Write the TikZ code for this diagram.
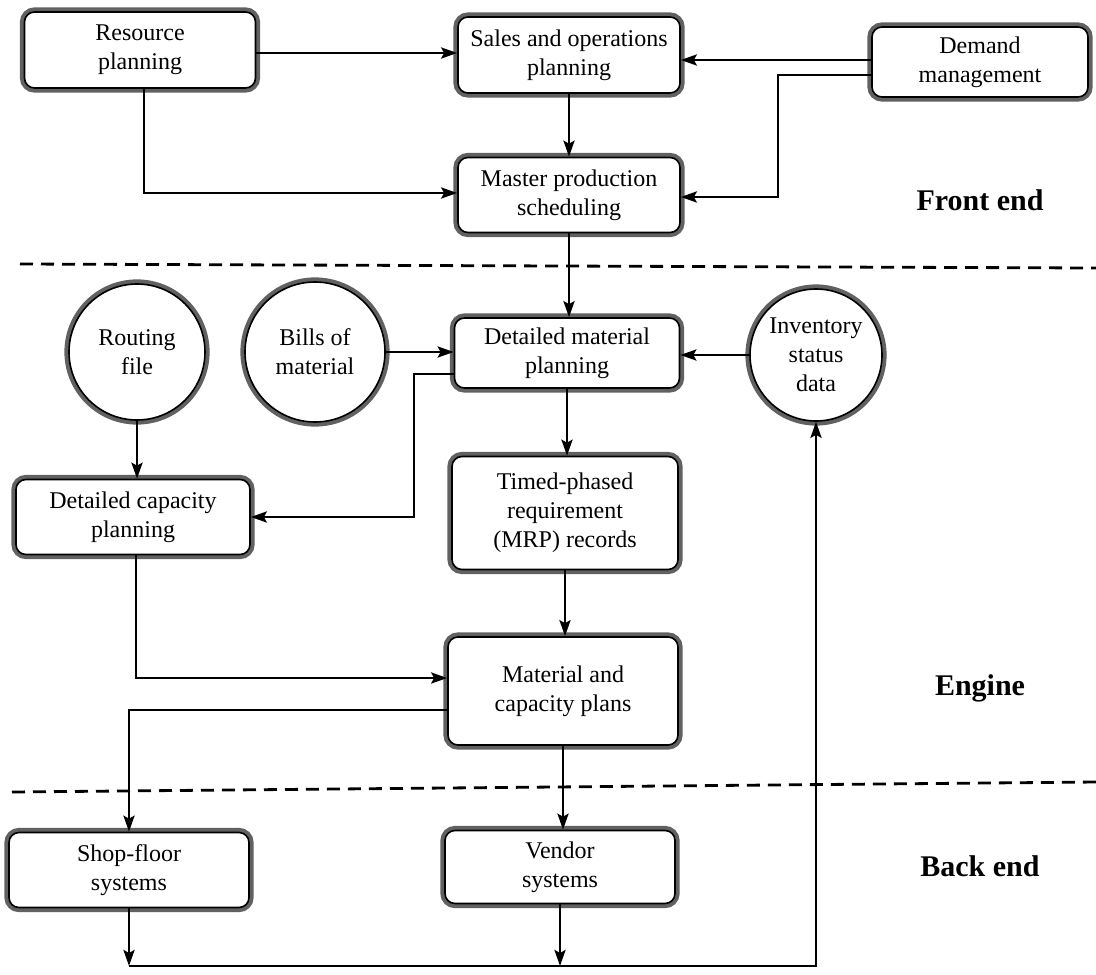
\documentclass[tikz,border=0pt]{standalone}
\usepackage{fontspec}
\setmainfont{Liberation Serif}
\usetikzlibrary{arrows.meta}
\begin{document}
\begin{tikzpicture}[x=0.5pt,y=-0.5pt,
  txt/.style={font=\fontsize{12}{14.4}\selectfont, align=center, inner sep=0pt},
  box/.style={txt, draw=black, line width=0.8pt, fill=white, rounded corners=5pt,
    preaction={draw=black!62, line width=4.6pt}},
  circ/.style={txt, circle, draw=black, line width=0.8pt, fill=white,
    preaction={draw=black!62, line width=4.6pt}},
  arr/.style={line width=1.4pt, -{Stealth[length=8pt,width=5.5pt,inset=1.5pt]}},
  sep/.style={line width=1.4pt, dash pattern=on 6.5pt off 4pt},
  lab/.style={font=\fontsize{15}{18}\selectfont\bfseries}]
\useasboundingbox (0,0) rectangle (1096,974);
\fill[white] (0,0) rectangle (1096,974);
% separators
\coordinate (s1a) at (20,264); \coordinate (s1b) at (1096,268);
\coordinate (s2a) at (12,792); \coordinate (s2b) at (1096,782);
\draw[sep] (s1a) -- (s1b);
\draw[sep] (s2a) -- (s2b);
% nodes
\node[box, minimum width=115.5pt, minimum height=38pt] (res) at (140,50) {Resource\\planning};
\node[box, minimum width=111pt, minimum height=38pt] (sop) at (569,55) {Sales and operations\\planning};
\node[box, minimum width=108pt, minimum height=35pt] (dem) at (980,62) {Demand\\management};
\node[box, minimum width=111pt, minimum height=37.5pt] (mst) at (569,195) {Master production\\scheduling};
\node[circ, minimum size=68pt] (rout) at (137,352) {Routing\\file};
\node[circ, minimum size=70pt] (bom) at (315,352) {Bills of\\material};
\node[box, minimum width=112.5pt, minimum height=35pt] (dmp) at (567,353) {Detailed material\\planning};
\node[circ, minimum size=66pt] (inv) at (816,355) {Inventory\\status\\data};
\node[box, minimum width=117pt, minimum height=37.5pt] (dcp) at (133,517) {Detailed capacity\\planning};
\node[box, minimum width=113pt, minimum height=56.5pt] (tpr) at (565,513) {Timed-phased\\requirement\\(MRP) records};
\node[box, minimum width=115pt, minimum height=54pt] (mcp) at (563,691) {Material and\\capacity plans};
\node[box, minimum width=120pt, minimum height=37.5pt] (sf) at (129,870) {Shop-floor\\systems};
\node[box, minimum width=115pt, minimum height=36.5pt] (vs) at (560,867) {Vendor\\systems};
\node[lab] (fe) at (980,200) {Front end};
\node[lab] (eng) at (980,688) {Engine};
\node[lab] (be) at (980,866) {Back end};
% connectors
\draw[arr] (res.east |- 0,53) -- (sop.west |- 0,53);
\draw[arr] (res.south -| 144,0) |- (mst.west |- 0,193);
\draw[arr] (dem.west |- 0,60) -- (sop.east |- 0,60);
\draw[arr] (dem.west |- 0,75) -- (778,75) |- (mst.east |- 0,197);
\draw[arr] (sop.south) -- (mst.north);
\draw[arr] (mst.south) -- (mst.south |- dmp.north);
\draw[arr] (bom.east) -- (bom.east -| dmp.west);
\draw[arr] (inv.west) -- (inv.west -| dmp.east);
\draw[arr] (dmp.west |- 0,374) -- (414,374) |- (dcp.east);
\draw[arr] (rout.south) -- (rout.south |- dcp.north);
\draw[arr] (dmp.south) -- (dmp.south |- tpr.north);
\draw[arr] (tpr.south) -- (tpr.south |- mcp.north);
\draw[arr] (dcp.south -| 136,0) |- (mcp.west |- 0,678);
\draw[arr] (mcp.west |- 0,710) -| (sf.north);
\draw[arr] (mcp.south) -- (mcp.south |- vs.north);
\coordinate (bl) at (129,966);
\coordinate (br) at (815,962);
\draw[arr] (sf.south) -- (sf.south |- bl);
\draw[arr] (vs.south) -- (vs.south |- bl);
\draw[line width=1.4pt, -{Stealth[length=8pt,width=5.5pt,inset=1.5pt]}] (sf.south |- bl) -- (inv.south |- bl) -- (inv.south);
\end{tikzpicture}
\end{document}
